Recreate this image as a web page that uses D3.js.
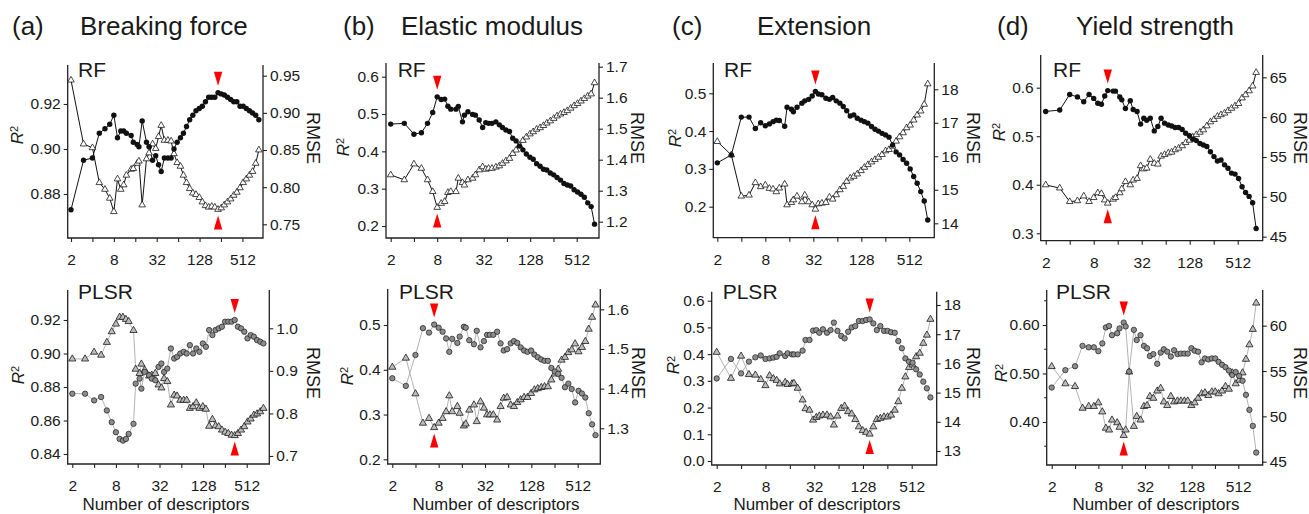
<!DOCTYPE html>
<html>
<head>
<meta charset="utf-8">
<script src="https://cdn.jsdelivr.net/npm/d3@7"></script>
<style>
  body { margin: 0; background: #fff; }
  svg text { font-family: "Liberation Sans", Arial, sans-serif; fill: #1a1a1a; }
</style>
</head>
<body>
<svg id="chart" width="1309" height="514"></svg>
<script>
// Number of descriptors used in each model (x values)
const descriptors = [2,3,4,5,6,7,8,9,10,11,12,14,15,17,18,20,23,25,28,31,34,37,41,46,51,56,62,69,76,84,93,103,114,127,140,155,172,190,210,233,258,285,316,350,387,428,474,525,581,643,712,788,872];

// (a) Breaking force
const rfR2Breaking = [0.873,0.895,0.896,0.907,0.909,0.911,0.915,0.905,0.908,0.908,0.907,0.906,0.903,0.902,0.901,0.9125,0.903,0.901,0.895,0.897,0.893,0.890,0.896,0.896,0.896,0.900,0.903,0.905,0.907,0.910,0.913,0.915,0.917,0.918,0.919,0.921,0.923,0.923,0.923,0.925,0.9245,0.924,0.923,0.922,0.921,0.921,0.919,0.919,0.918,0.917,0.916,0.915,0.913];
const rfRmseBreaking = [0.944,0.858,0.853,0.806,0.797,0.785,0.767,0.811,0.797,0.803,0.816,0.824,0.825,0.832,0.835,0.776,0.838,0.846,0.858,0.852,0.868,0.883,0.863,0.863,0.862,0.845,0.833,0.828,0.816,0.806,0.798,0.792,0.790,0.786,0.780,0.775,0.773,0.774,0.773,0.770,0.772,0.776,0.780,0.784,0.789,0.793,0.799,0.806,0.811,0.816,0.821,0.832,0.850];
const plsrR2Breaking = [0.876,0.876,0.872,0.874,0.866,0.859,0.853,0.849,0.848,0.849,0.852,0.858,0.882,0.885,0.879,0.889,0.887,0.885,0.884,0.892,0.894,0.889,0.891,0.903,0.897,0.898,0.900,0.901,0.900,0.905,0.900,0.903,0.901,0.906,0.904,0.914,0.911,0.914,0.915,0.916,0.919,0.919,0.919,0.920,0.916,0.915,0.913,0.909,0.911,0.910,0.908,0.907,0.906];
const plsrRmseBreaking = [0.928,0.928,0.944,0.937,0.967,0.992,1.010,1.026,1.026,1.021,1.016,0.995,0.904,0.894,0.916,0.902,0.888,0.890,0.894,0.867,0.860,0.882,0.875,0.820,0.843,0.841,0.831,0.831,0.831,0.812,0.816,0.825,0.812,0.816,0.810,0.770,0.786,0.771,0.769,0.761,0.756,0.753,0.749,0.748,0.753,0.761,0.769,0.780,0.787,0.796,0.799,0.804,0.812];

// (b) Elastic modulus
const rfR2Elastic = [0.473,0.475,0.446,0.450,0.475,0.504,0.546,0.539,0.540,0.521,0.513,0.513,0.520,0.479,0.497,0.506,0.499,0.497,0.484,0.464,0.477,0.475,0.475,0.479,0.471,0.464,0.457,0.453,0.435,0.428,0.414,0.404,0.393,0.384,0.379,0.367,0.360,0.352,0.350,0.342,0.337,0.330,0.323,0.314,0.310,0.307,0.297,0.291,0.285,0.277,0.262,0.252,0.205];
const rfRmseElastic = [1.351,1.335,1.386,1.372,1.335,1.297,1.246,1.259,1.265,1.294,1.297,1.297,1.340,1.326,1.318,1.335,1.340,1.351,1.367,1.377,1.369,1.372,1.372,1.376,1.380,1.388,1.396,1.404,1.420,1.431,1.446,1.462,1.473,1.483,1.490,1.498,1.503,1.510,1.518,1.525,1.533,1.541,1.547,1.552,1.558,1.566,1.574,1.581,1.589,1.597,1.605,1.612,1.648];
const plsrR2Elastic = [0.381,0.364,0.433,0.493,0.483,0.501,0.494,0.485,0.470,0.440,0.469,0.460,0.474,0.496,0.494,0.466,0.457,0.487,0.450,0.464,0.478,0.478,0.478,0.485,0.459,0.443,0.446,0.459,0.464,0.460,0.450,0.443,0.440,0.443,0.434,0.428,0.423,0.420,0.420,0.404,0.396,0.391,0.382,0.361,0.369,0.357,0.327,0.353,0.347,0.338,0.303,0.278,0.254];
const plsrRmseElastic = [1.454,1.477,1.387,1.313,1.325,1.302,1.313,1.325,1.342,1.382,1.342,1.355,1.338,1.306,1.311,1.346,1.359,1.317,1.367,1.351,1.334,1.334,1.334,1.321,1.355,1.376,1.378,1.359,1.355,1.365,1.372,1.378,1.378,1.388,1.397,1.400,1.403,1.405,1.405,1.422,1.437,1.449,1.472,1.479,1.491,1.498,1.513,1.493,1.504,1.519,1.550,1.580,1.611];

// (c) Extension
const rfR2Extension = [0.316,0.337,0.437,0.437,0.407,0.422,0.414,0.419,0.425,0.429,0.428,0.413,0.463,0.458,0.451,0.463,0.474,0.480,0.484,0.493,0.505,0.498,0.496,0.487,0.484,0.489,0.480,0.474,0.465,0.454,0.440,0.443,0.434,0.429,0.425,0.421,0.412,0.405,0.400,0.394,0.390,0.384,0.363,0.345,0.337,0.325,0.315,0.300,0.280,0.262,0.240,0.215,0.165];
const rfRmseExtension = [16.44,16.04,14.81,14.84,15.21,15.09,15.14,15.04,15.02,14.94,15.05,15.17,14.55,14.62,14.70,14.81,14.64,14.84,14.64,14.55,14.42,14.58,14.60,14.62,14.78,14.72,14.85,15.00,15.10,15.25,15.35,15.40,15.47,15.57,15.67,15.75,15.83,15.90,15.97,16.05,16.16,16.20,16.30,16.45,16.58,16.70,16.85,16.93,17.08,17.23,17.35,17.55,18.16];
const plsrR2Extension = [0.309,0.382,0.328,0.372,0.388,0.395,0.382,0.384,0.387,0.390,0.403,0.393,0.403,0.399,0.399,0.399,0.413,0.453,0.453,0.488,0.490,0.480,0.493,0.480,0.490,0.518,0.487,0.468,0.459,0.484,0.500,0.505,0.524,0.524,0.528,0.530,0.515,0.490,0.505,0.487,0.487,0.482,0.480,0.449,0.422,0.384,0.372,0.368,0.343,0.324,0.297,0.272,0.238];
const plsrRmseExtension = [16.38,15.49,16.25,15.62,15.60,15.45,15.24,15.58,15.48,15.42,15.30,15.35,15.28,15.30,15.32,15.15,14.75,14.45,14.40,14.06,14.15,14.20,14.23,14.23,14.17,13.89,14.20,14.46,14.54,14.35,14.27,14.08,13.83,13.70,13.64,13.58,13.83,14.08,14.12,14.17,14.17,14.23,14.40,14.69,15.15,15.54,15.86,15.95,16.23,16.35,16.69,16.97,17.51];

// (d) Yield strength
const rfR2Yield = [0.551,0.554,0.586,0.581,0.571,0.586,0.578,0.568,0.566,0.583,0.594,0.593,0.593,0.581,0.575,0.557,0.573,0.555,0.551,0.525,0.537,0.533,0.537,0.511,0.520,0.537,0.527,0.523,0.521,0.518,0.518,0.514,0.506,0.501,0.494,0.491,0.485,0.482,0.479,0.468,0.458,0.449,0.451,0.441,0.434,0.424,0.422,0.413,0.396,0.384,0.376,0.363,0.310];
const rfRmseYield = [51.5,51.1,49.4,49.5,50.1,49.4,49.9,50.5,50.4,49.6,49.2,49.7,49.9,50.5,51.0,51.9,51.5,52.1,52.3,53.9,53.5,53.6,54.7,54.2,54.1,55.1,55.3,55.5,55.6,55.9,56.1,56.4,56.8,57.1,57.5,57.8,58.1,58.4,58.9,59.4,59.7,60.1,60.3,60.5,60.8,61.1,61.4,61.7,62.4,62.8,63.3,63.9,65.6];
const plsrR2Yield = [0.471,0.507,0.515,0.557,0.554,0.554,0.546,0.562,0.595,0.598,0.579,0.583,0.593,0.605,0.597,0.504,0.590,0.569,0.579,0.557,0.552,0.536,0.540,0.520,0.543,0.550,0.545,0.535,0.548,0.540,0.541,0.541,0.541,0.552,0.547,0.545,0.523,0.531,0.529,0.531,0.531,0.524,0.518,0.513,0.506,0.497,0.503,0.495,0.485,0.456,0.425,0.392,0.337];
const plsrRmseYield = [55.5,53.6,53.3,50.9,51.1,51.1,51.5,50.5,48.7,48.5,49.6,49.3,48.8,47.9,48.5,54.9,48.9,50.0,49.6,51.1,51.2,52.2,52.0,52.8,53.1,51.6,51.2,52.2,51.6,51.7,51.7,51.7,51.7,51.2,51.5,52.0,52.5,52.6,52.3,52.7,52.7,52.5,52.8,53.3,53.0,54.8,53.6,54.0,54.8,56.3,57.9,59.6,62.5];

// optimal descriptor counts (red arrows)
const bestRF = [233, 8, 34, 12];
const bestPLSR = [350, 7, 155, 17];

const panelLetters = ["(a)", "(b)", "(c)", "(d)"];
const properties = ["Breaking force", "Elastic modulus", "Extension", "Yield strength"];

const xTicks = [2, 4, 8, 16, 32, 64, 128, 256, 512];
const xTickLabels = [2, 8, 32, 128, 512];

const svg = d3.select("#chart");

// panel headers
const headerX = [[12, 80], [343, 401], [672, 757], [997, 1076]];
panelLetters.forEach((l, i) => {
  svg.append("text").attr("x", headerX[i][0]).attr("y", 35)
    .style("font-size", "26px").text(l);
  svg.append("text").attr("x", headerX[i][1]).attr("y", 35)
    .style("font-size", "26px").text(properties[i]);
});

// geometry of each sub-plot (pixel layout)
const plots = [
  { model: "RF", r2: rfR2Breaking, rmse: rfRmseBreaking, best: bestRF[0],
    L: 67.7, R: 263, T: 65, B: 238, x2: 71, x512: 242.4,
    yl: [0.88, 0.92, 194, 104], yr: [0.75, 0.95, 224.3, 75.7],
    ticksL: [0.88, 0.90, 0.92], fmtL: ".2f", ticksR: [0.75, 0.80, 0.85, 0.90, 0.95], fmtR: ".2f",
    lab: [78, 76.5], r2Lab: [17, 135], rmseLab: [313, 138] },
  { model: "PLSR", r2: plsrR2Breaking, rmse: plsrRmseBreaking, best: bestPLSR[0],
    L: 67.7, R: 269.3, T: 290, B: 464, x2: 72.3, x512: 246.7,
    yl: [0.84, 0.92, 454, 320], yr: [0.7, 1.0, 456, 328.3],
    ticksL: [0.84, 0.86, 0.88, 0.90, 0.92], fmtL: ".2f", ticksR: [0.7, 0.8, 0.9, 1.0], fmtR: ".1f",
    lab: [78, 299], r2Lab: [18, 375], rmseLab: [313, 373], xLab: 166 },
  { model: "RF", r2: rfR2Elastic, rmse: rfRmseElastic, best: bestRF[1],
    L: 386, R: 599, T: 63, B: 238, x2: 390.7, x512: 576.7,
    yl: [0.2, 0.6, 226, 76.7], yr: [1.2, 1.7, 221.7, 66.7],
    ticksL: [0.2, 0.3, 0.4, 0.5, 0.6], fmtL: ".1f", ticksR: [1.2, 1.3, 1.4, 1.5, 1.6, 1.7], fmtR: ".1f",
    lab: [397.7, 76.5], r2Lab: [343, 147], rmseLab: [637.5, 138] },
  { model: "PLSR", r2: plsrR2Elastic, rmse: plsrRmseElastic, best: bestPLSR[1],
    L: 387.7, R: 600.3, T: 289, B: 464, x2: 392.3, x512: 577.7,
    yl: [0.2, 0.5, 459.3, 325], yr: [1.3, 1.6, 428.3, 309.3],
    ticksL: [0.2, 0.3, 0.4, 0.5], fmtL: ".1f", ticksR: [1.3, 1.4, 1.5, 1.6], fmtR: ".1f",
    lab: [399, 299], r2Lab: [346.7, 376], rmseLab: [638, 373], xLab: 496 },
  { model: "RF", r2: rfR2Extension, rmse: rfRmseExtension, best: bestRF[2],
    L: 713.3, R: 934.3, T: 63, B: 237.7, x2: 717.3, x512: 909.3,
    yl: [0.2, 0.5, 206.7, 93.3], yr: [14, 18, 223.3, 89.3],
    ticksL: [0.2, 0.3, 0.4, 0.5], fmtL: ".1f", ticksR: [14, 15, 16, 17, 18], fmtR: "d",
    lab: [724, 76.5], r2Lab: [675, 138], rmseLab: [973, 138] },
  { model: "PLSR", r2: plsrR2Extension, rmse: plsrRmseExtension, best: bestPLSR[2],
    L: 711.7, R: 936.7, T: 291.7, B: 465, x2: 716.7, x512: 911.7,
    yl: [0, 0.6, 461, 300.7], yr: [13, 18, 451, 305],
    ticksL: [0, 0.1, 0.2, 0.3, 0.4, 0.5, 0.6], fmtL: ".1f", ticksR: [13, 14, 15, 16, 17, 18], fmtR: "d",
    lab: [722.7, 299], r2Lab: [673.5, 365], rmseLab: [973, 373], xLab: 817 },
  { model: "RF", r2: rfR2Yield, rmse: rfRmseYield, best: bestRF[3],
    L: 1040.7, R: 1262.7, T: 55, B: 240.7, x2: 1045.7, x512: 1237.7,
    yl: [0.3, 0.6, 233.3, 87.7], yr: [45, 65, 236.7, 77.3],
    ticksL: [0.3, 0.4, 0.5, 0.6], fmtL: ".1f", ticksR: [45, 50, 55, 60, 65], fmtR: "d",
    lab: [1053, 77], r2Lab: [999, 132], rmseLab: [1300, 138] },
  { model: "PLSR", r2: plsrR2Yield, rmse: plsrRmseYield, best: bestPLSR[3],
    L: 1046.7, R: 1262.7, T: 290, B: 465, x2: 1051.7, x512: 1238.3,
    yl: [0.4, 0.6, 422, 325], yr: [45, 60, 461.7, 325.7],
    ticksL: [0.4, 0.5, 0.6], fmtL: ".2f", minorL: [0.35, 0.45, 0.55, 0.65], ticksR: [45, 50, 55, 60], fmtR: "d",
    lab: [1056, 299], r2Lab: [1001.5, 373], rmseLab: [1300, 373], xLab: 1156 }
];

function styleAxis(a) {
  a.attr("font-size", null).attr("font-family", null).attr("color", "#222");
  a.select(".domain").remove();
  a.selectAll("text").style("font-size", "15.5px");
  a.selectAll("line").attr("stroke-width", 1.1);
}

function drawPlot(f) {
  const g = svg.append("g");
  const x = d3.scaleLog().base(2).domain([2, 512]).range([f.x2, f.x512]);
  const yL = d3.scaleLinear().domain([f.yl[0], f.yl[1]]).range([f.yl[2], f.yl[3]]);
  const yR = d3.scaleLinear().domain([f.yr[0], f.yr[1]]).range([f.yr[2], f.yr[3]]);

  // axes
  g.append("g").attr("transform", `translate(${f.L},0)`)
    .call(d3.axisLeft(yL).tickValues(f.ticksL).tickFormat(d3.format(f.fmtL)).tickSize(4).tickPadding(3))
    .call(styleAxis);
  if (f.minorL) {
    g.selectAll(".minor").data(f.minorL).join("line")
      .attr("x1", f.L - 2.5).attr("x2", f.L)
      .attr("y1", d => yL(d)).attr("y2", d => yL(d))
      .attr("stroke", "#222").attr("stroke-width", 1.1);
  }
  g.append("g").attr("transform", `translate(${f.R},0)`)
    .call(d3.axisRight(yR).tickValues(f.ticksR).tickFormat(d3.format(f.fmtR)).tickSize(4).tickPadding(3))
    .call(styleAxis);
  g.append("g").attr("transform", `translate(0,${f.B})`)
    .call(d3.axisBottom(x).tickValues(xTicks)
      .tickFormat(d => xTickLabels.includes(d) ? d : "").tickSize(4).tickPadding(12))
    .call(styleAxis);
  g.append("path")
    .attr("d", `M${f.L},${f.T}V${f.B}H${f.R}V${f.T}`)
    .attr("fill", "none").attr("stroke", "#222").attr("stroke-width", 1.3);

  // labels
  g.append("text").attr("x", f.lab[0]).attr("y", f.lab[1]).style("font-size", "21px").text(f.model);
  const r2 = g.append("text")
    .attr("transform", `translate(${f.r2Lab[0]},${f.r2Lab[1]}) rotate(-90)`)
    .attr("text-anchor", "middle").attr("dy", "0.35em").style("font-size", "17px");
  r2.append("tspan").style("font-style", "italic").text("R");
  r2.append("tspan").attr("dy", "-0.45em").style("font-size", "11px").text("2");
  g.append("text")
    .attr("transform", `translate(${f.rmseLab[0]},${f.rmseLab[1]}) rotate(90)`)
    .attr("text-anchor", "middle").attr("dy", "0.35em").style("font-size", "18px").text("RMSE");
  if (f.xLab) {
    g.append("text").attr("x", f.xLab).attr("y", 510).attr("text-anchor", "middle")
      .style("font-size", "17px").text("Number of descriptors");
  }

  // series
  const pts = descriptors.map((d, i) => ({ d: d, r2: f.r2[i], rmse: f.rmse[i] }));
  const rf = f.model === "RF";
  const lineCol = rf ? "#111" : "#b3b3b3";
  const lineR2 = d3.line().x(p => x(p.d)).y(p => yL(p.r2));
  const lineRmse = d3.line().x(p => x(p.d)).y(p => yR(p.rmse));
  g.append("path").datum(pts).attr("d", lineRmse).attr("fill", "none").attr("stroke", lineCol).attr("stroke-width", 1);
  g.append("path").datum(pts).attr("d", lineR2).attr("fill", "none").attr("stroke", lineCol).attr("stroke-width", 1);

  const tri = d3.symbol().type(d3.symbolTriangle).size(rf ? 19 : 22);
  g.selectAll(".tri").data(pts).join("path")
    .attr("transform", p => `translate(${x(p.d)},${yR(p.rmse)})`)
    .attr("d", tri)
    .attr("fill", rf ? "#fff" : "#bdbdbd")
    .attr("stroke", "#1a1a1a").attr("stroke-width", 0.8);
  g.selectAll(".dot").data(pts).join("circle")
    .attr("cx", p => x(p.d)).attr("cy", p => yL(p.r2))
    .attr("r", 2.7)
    .attr("fill", rf ? "#111" : "#8c8c8c")
    .attr("stroke", rf ? "none" : "#1a1a1a").attr("stroke-width", 0.7);

  // red markers at the optimum
  const bi = descriptors.indexOf(f.best);
  const bx = x(f.best);
  const topTip = yL(f.r2[bi]) - 7;
  const botTip = yR(f.rmse[bi]) + 6;
  g.append("path")
    .attr("d", `M${bx - 4.2},${topTip - 14}L${bx + 4.2},${topTip - 14}L${bx},${topTip}Z`)
    .attr("fill", "#ff0000");
  g.append("path")
    .attr("d", `M${bx - 4.2},${botTip + 14}L${bx + 4.2},${botTip + 14}L${bx},${botTip}Z`)
    .attr("fill", "#ff0000");
}

plots.forEach(drawPlot);
</script>
</body>
</html>
